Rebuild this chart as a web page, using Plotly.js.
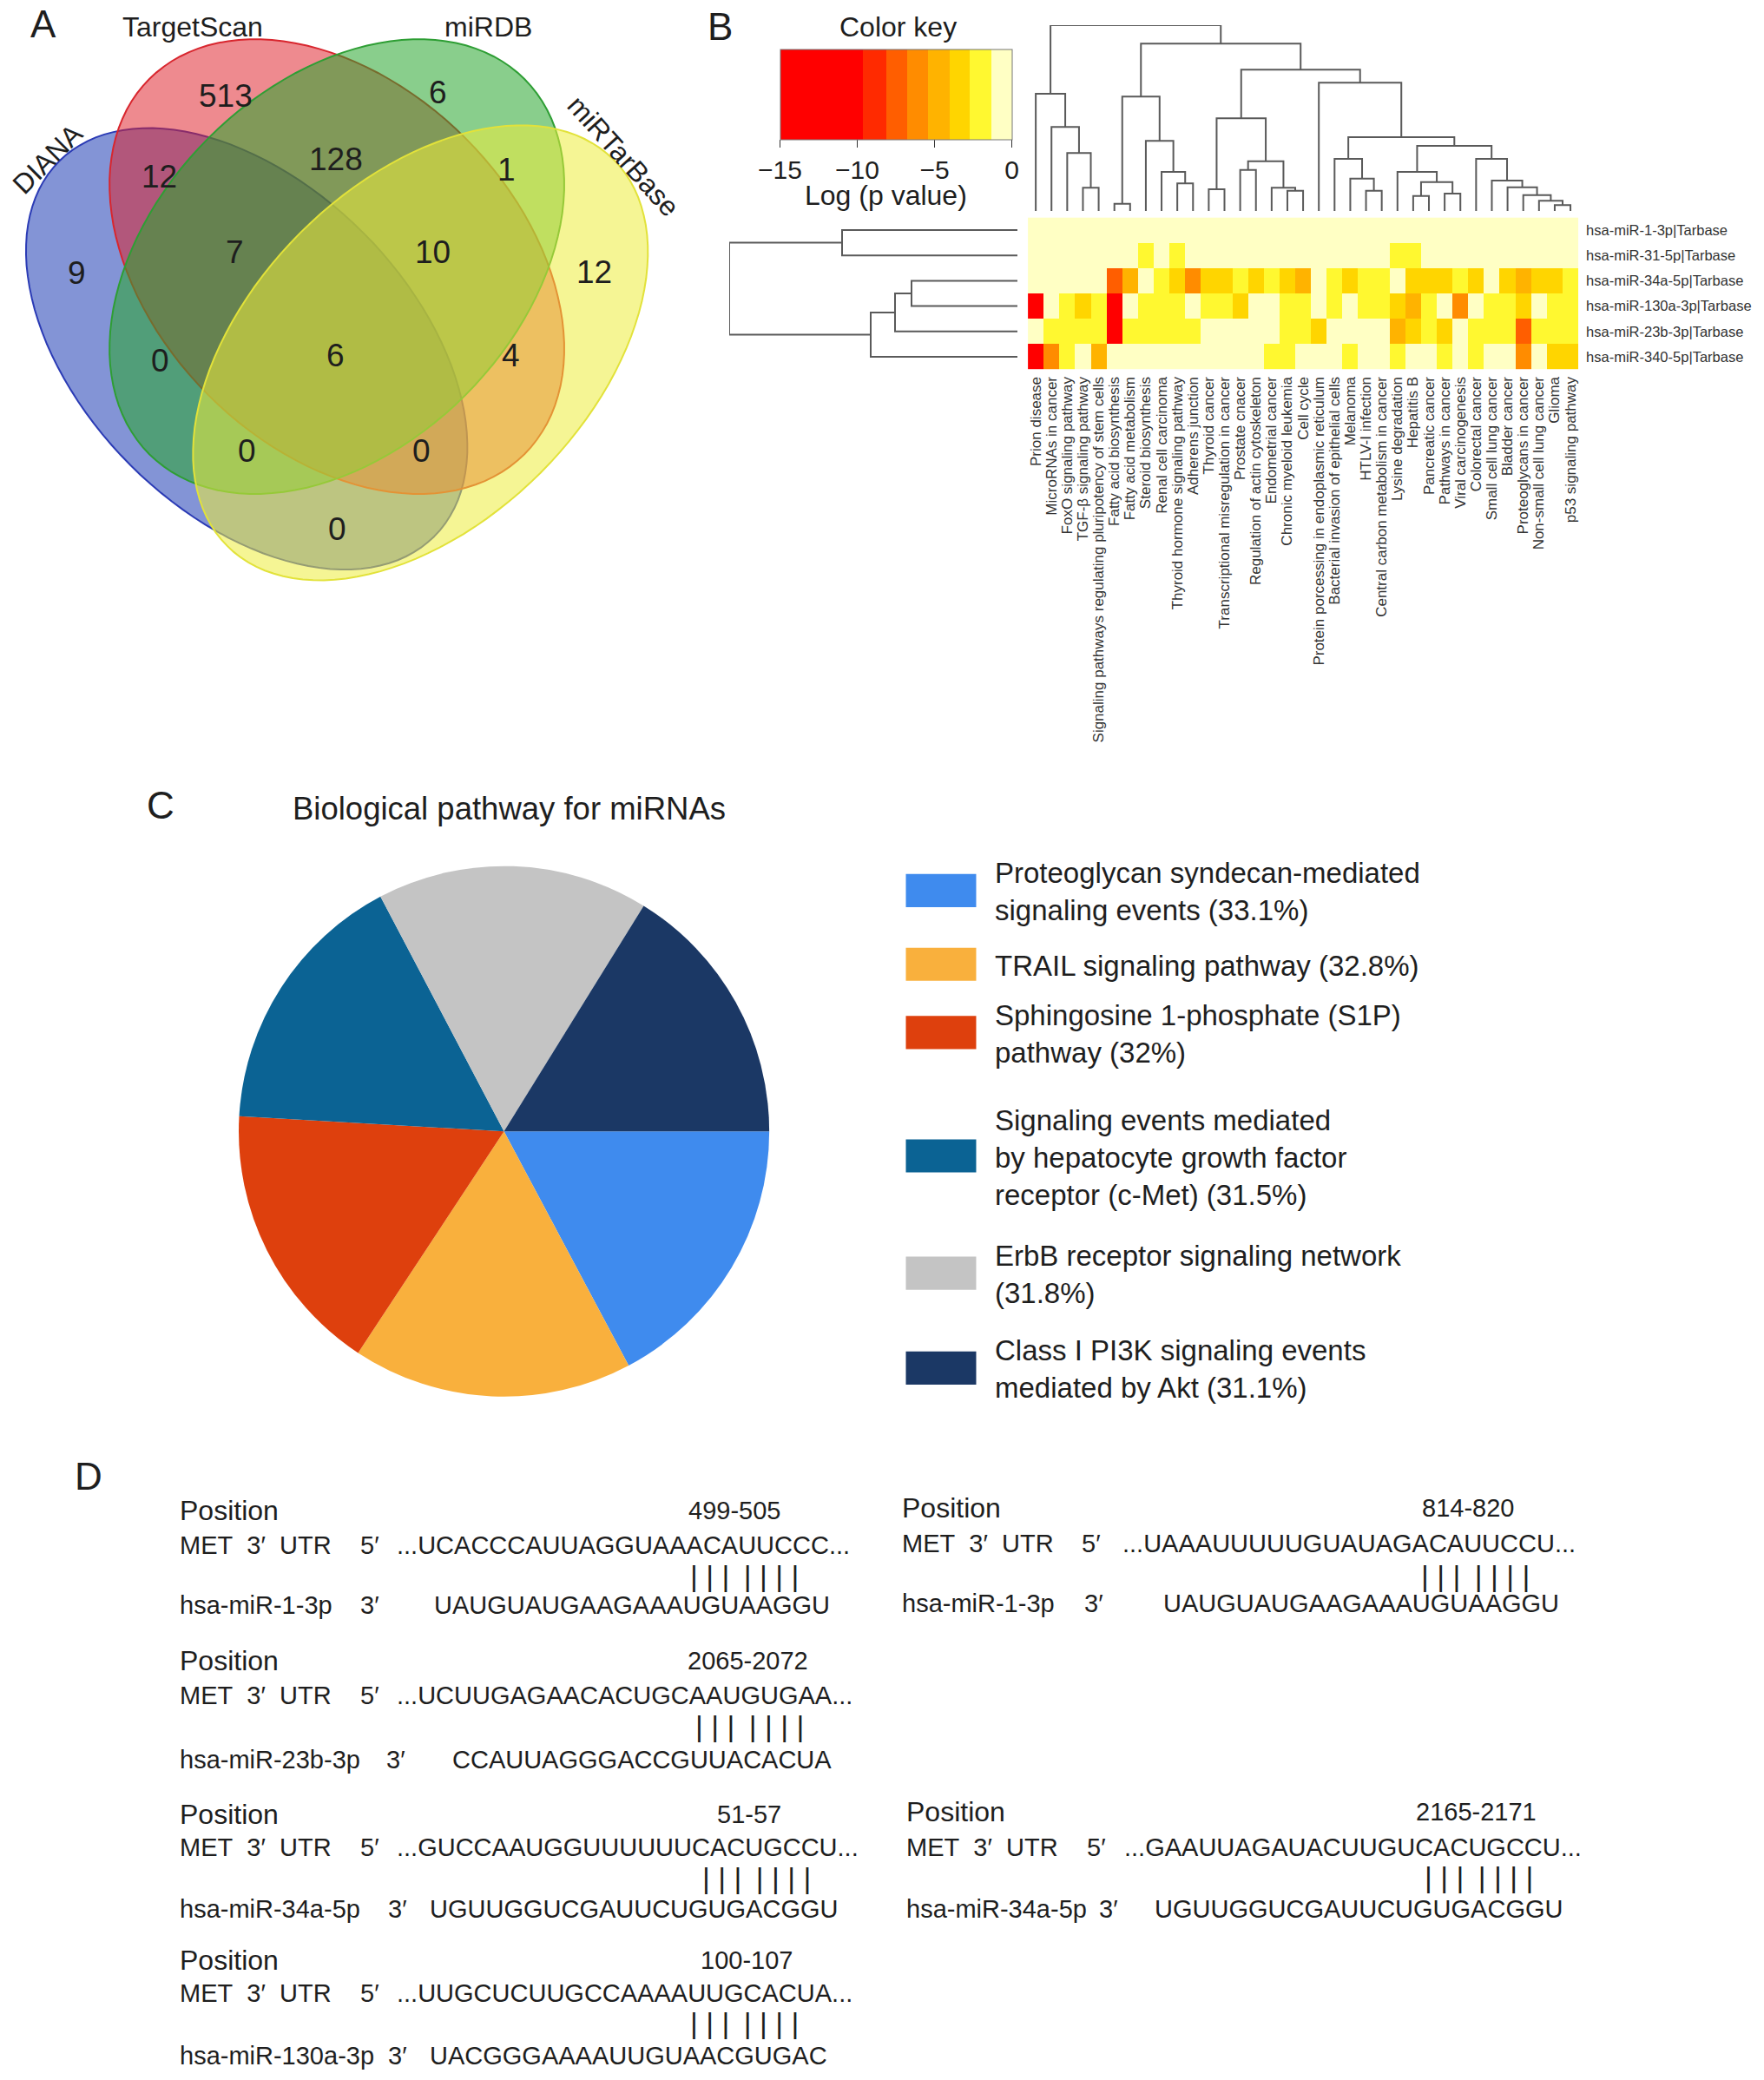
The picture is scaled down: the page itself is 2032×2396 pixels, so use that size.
<!DOCTYPE html>
<html><head><meta charset="utf-8">
<script src="https://cdn.plot.ly/plotly-3.0.1.min.js"></script>
<style>html,body{margin:0;padding:0;background:#fff}</style>
</head><body><div id="chart" style="width:2032px;height:2396px"></div>
<script>
// ================= DATA =================
// Panel A - Venn
const vennSetNames = ['DIANA', 'TargetScan', 'miRDB', 'miRTarBase'];
const vennRegionCounts = [9, 513, 6, 12, 12, 128, 1, 7, 10, 0, 6, 4, 0, 0, 0];
const vennRegionSets = ['D', 'T', 'M', 'B', 'DT', 'TM', 'MB', 'DTM', 'TMB', 'DM', 'DTMB', 'TB', 'DMB', 'DTB', 'DB'];

// Panel B - heatmap of log(p value)
const pathways = ['Prion disease', 'MicroRNAs in cancer', 'FoxO signaling pathway', 'TGF-β signaling pathway',
  'Signaling pathways regulating pluripotency of stem cells', 'Fatty acid biosynthesis', 'Fatty acid metabolism',
  'Steroid biosynthesis', 'Renal cell carcinoma', 'Thyroid hormone signaling pathway', 'Adherens junction',
  'Thyroid cancer', 'Transcriptional misregulation in cancer', 'Prostate cnacer', 'Regulation of actin cytoskeleton',
  'Endometrial cancer', 'Chronic myeloid leukemia', 'Cell cycle', 'Protein porcessing in endoplasmic reticulum',
  'Bacterial invasion of epithelial cells', 'Melanoma', 'HTLV-I infection', 'Central carbon metabolism in cancer',
  'Lysine degradation', 'Hepatitis B', 'Pancreatic cancer', 'Pathways in cancer', 'Viral carcinogenesis',
  'Colorectal cancer', 'Small cell lung cancer', 'Bladder cancer', 'Proteoglycans in cancer',
  'Non-small cell lung cancer', 'Glioma', 'p53 signaling pathway'];
const mirnas = ['hsa-miR-1-3p|Tarbase', 'hsa-miR-31-5p|Tarbase', 'hsa-miR-34a-5p|Tarbase',
  'hsa-miR-130a-3p|Tarbase', 'hsa-miR-23b-3p|Tarbase', 'hsa-miR-340-5p|Tarbase'];
const logP_miR1_3p = [-0.6,-0.6,-0.6,-0.6,-0.6,-0.6,-0.6,-0.6,-0.6,-0.6,-0.6,-0.6,-0.6,-0.6,-0.6,-0.6,-0.6,-0.6,-0.6,-0.6,-0.6,-0.6,-0.6,-0.6,-0.6,-0.6,-0.6,-0.6,-0.6,-0.6,-0.6,-0.6,-0.6,-0.6,-0.6];
const logP_miR31_5p = [-0.6,-0.6,-0.6,-0.6,-0.6,-0.6,-0.6,-2.3,-0.6,-2.3,-0.6,-0.6,-0.6,-0.6,-0.6,-0.6,-0.6,-0.6,-0.6,-0.6,-0.6,-0.6,-0.6,-2.0,-2.0,-0.6,-0.6,-0.6,-0.6,-0.6,-0.6,-0.6,-0.6,-0.6,-0.6];
const logP_miR34a_5p = [-0.6,-0.6,-0.6,-0.6,-0.6,-7.5,-4.7,-0.6,-2.3,-3.4,-5.5,-3.4,-3.4,-2.3,-3.4,-2.3,-3.4,-4.6,-0.6,-2.3,-3.4,-1.9,-2.3,-0.6,-3.4,-3.4,-3.4,-2.4,-3.4,-0.6,-3.4,-4.6,-3.4,-3.4,-2.3];
const logP_miR130a_3p = [-12,-0.6,-1.9,-3.4,-1.9,-12,-0.6,-1.9,-2.4,-2.4,-0.6,-1.9,-1.9,-3.4,-0.6,-0.6,-2.3,-1.9,-0.6,-1.9,-0.6,-2.0,-2.0,-3.4,-4.6,-1.9,-0.6,-6.0,-0.6,-1.9,-1.9,-3.4,-0.6,-2.3,-1.9];
const logP_miR23b_3p = [-0.6,-1.9,-1.9,-2.4,-1.9,-12,-1.9,-1.9,-1.9,-1.9,-2.3,-0.6,-0.6,-0.6,-0.6,-0.6,-2.3,-1.9,-3.4,-0.6,-0.6,-0.6,-0.6,-4.6,-3.4,-1.6,-3.4,-0.6,-1.8,-1.8,-1.8,-7.5,-2.3,-1.8,-2.3];
const logP_miR340_5p = [-12,-6.6,-1.9,-0.6,-4.6,-0.6,-0.6,-0.6,-0.6,-0.6,-0.6,-0.6,-0.6,-0.6,-0.6,-1.9,-1.9,-0.6,-0.6,-0.6,-1.9,-0.6,-0.6,-1.8,-0.6,-0.6,-1.8,-0.6,-1.8,-0.6,-0.6,-6.0,-0.6,-3.4,-3.4];
const keyBreaks = [-15, -9.66, -8.14, -6.77, -5.43, -4.06, -2.73, -1.35, 0];
const keyColors = ['#FF0000', '#FF2A00', '#FF5E00', '#FF8C00', '#FFB300', '#FFD500', '#FFF830', '#FFFFC4'];
const keyTicks = [-15, -10, -5, 0];
// dendrograms: [left, right, height]; negative = leaf (1-based, display order), positive = earlier merge
const colMerges = [[-4,-5,80],[-3,1,200],[-2,2,290],[-1,3,405],[-6,-7,25],[-10,-11,95],[-9,6,135],[-8,7,242],
  [5,8,395],[-12,-13,75],[-14,-15,142],[-17,-18,70],[-16,12,80],[11,13,172],[10,14,320],[-22,-23,70],[-21,16,112],
  [-20,17,180],[-25,-26,52],[-27,-28,60],[19,20,100],[-24,21,135],[-34,-35,20],[-33,23,35],[-32,24,55],[-31,25,82],
  [-30,26,105],[-29,27,180],[22,28,225],[18,29,255],[-19,30,443],[15,31,488],[9,32,578],[4,33,642]];
const rowMerges = [[-1,-2,202],[-3,-4,122],[2,-5,141],[3,-6,169],[1,4,332]];

// Panel C - pie
const pieNames = ['Proteoglycan syndecan-mediated signaling events', 'TRAIL signaling pathway',
  'Sphingosine 1-phosphate (S1P) pathway', 'Signaling events mediated by hepatocyte growth factor receptor (c-Met)',
  'ErbB receptor signaling network', 'Class I PI3K signaling events mediated by Akt'];
const pieValues = [33.1, 32.8, 32, 31.5, 31.8, 31.1];
const pieLegendText = ['Proteoglycan syndecan-mediated<br>signaling events (33.1%)', 'TRAIL signaling pathway (32.8%)',
  'Sphingosine 1-phosphate (S1P)<br>pathway (32%)', 'Signaling events mediated<br>by hepatocyte growth factor<br>receptor (c-Met) (31.5%)',
  'ErbB receptor signaling network<br>(31.8%)', 'Class I PI3K signaling events<br>mediated by Akt (31.1%)'];
const pieColors = ['#3F8BEE', '#F9B03D', '#DE400D', '#0B6394', '#C4C4C4', '#1B3865'];

// Panel D - target sites
const sitePositions = ['499-505', '2065-2072', '51-57', '100-107', '814-820', '2165-2171'];
const utrSeqs = ['...UCACCCAUUAGGUAAACAUUCCC...', '...UCUUGAGAACACUGCAAUGUGAA...', '...GUCCAAUGGUUUUUUCACUGCCU...',
  '...UUGCUCUUGCCAAAAUUGCACUA...', '...UAAAUUUUUGUAUAGACAUUCCU...', '...GAAUUAGAUACUUGUCACUGCCU...'];
const mirNames = ['hsa-miR-1-3p', 'hsa-miR-23b-3p', 'hsa-miR-34a-5p', 'hsa-miR-130a-3p', 'hsa-miR-1-3p', 'hsa-miR-34a-5p'];
const mirSeqs = ['UAUGUAUGAAGAAAUGUAAGGU', 'CCAUUAGGGACCGUUACACUA', 'UGUUGGUCGAUUCUGUGACGGU', 'UACGGGAAAAUUGUAACGUGAC',
  'UAUGUAUGAAGAAAUGUAAGGU', 'UGUUGGUCGAUUCUGUGACGGU'];

// ================= LAYOUT HELPERS =================
const W = 2032, H = 2396, S = 2032 / 1330;
const s = v => v * S;                 // reference-scale -> px
const FONT = 'Liberation Sans, Arial, Helvetica, sans-serif';
const INK = '#1e1e1e';
const annotations = [], shapes = [], traces = [];
function txt(x, y, text, size, opts) {
  annotations.push(Object.assign({xref: 'x', yref: 'y', x: s(x), y: s(y), text: text, showarrow: false,
    xanchor: 'left', yanchor: 'middle', align: 'left', font: {family: FONT, size: size, color: INK}}, opts || {}));
}
// pixel axis
traces.push({type: 'scatter', x: [0], y: [0], mode: 'markers', marker: {opacity: 0}, hoverinfo: 'skip', showlegend: false, xaxis: 'x', yaxis: 'y'});

// ---------- Panel letters ----------
txt(33, 18, 'A', 44, {xanchor: 'center'});
txt(543, 20, 'B', 44, {xanchor: 'center'});
txt(121, 607, 'C', 44, {xanchor: 'center'});
txt(67, 1113, 'D', 44, {xanchor: 'center'});

// ---------- Panel A: Venn ----------
const vennEllipses = [ // [cx, cy, a, b, angle] reference-scale
  [186, 263, 200, 124, 45], [254, 201, 200, 137, 45], [254, 201, 200, 137, -45], [317, 266, 206, 128, -45]];
const vennFill = ['rgba(30,60,180,0.55)', 'rgba(222,30,40,0.52)', 'rgba(40,165,45,0.55)', 'rgba(236,236,60,0.55)'];
const vennLine = ['#2B3BB5', '#D8262E', '#2E9E34', '#E2E23A'];
vennEllipses.forEach((e, i) => {
  const [cx, cy, a, b, ang] = e, th = ang * Math.PI / 180;
  let d = '';
  for (let k = 0; k <= 120; k++) {
    const t = 2 * Math.PI * k / 120;
    const x = cx + a * Math.cos(t) * Math.cos(th) - b * Math.sin(t) * Math.sin(th);
    const y = cy + a * Math.cos(t) * Math.sin(th) + b * Math.sin(t) * Math.cos(th);
    d += (k ? 'L' : 'M') + s(x).toFixed(1) + ',' + s(y).toFixed(1);
  }
  shapes.push({type: 'path', xref: 'x', yref: 'y', path: d + 'Z', fillcolor: vennFill[i], line: {color: vennLine[i], width: 2}, layer: 'above'});
});
const vennRegionXY = [[58,206],[170,72],[330,70],[448,205],[120,133],[253,120],[382,128],[177,190],[326,190],
  [121,272],[253,268],[385,268],[186,340],[318,340],[254,399]];
vennRegionCounts.forEach((c, i) => txt(vennRegionXY[i][0], vennRegionXY[i][1], String(c), 37, {xanchor: 'center'}));
const vennLabelXY = [[36, 120, -45], [145, 20, 0], [368, 20, 0], [470, 118, 48]];
vennSetNames.forEach((n, i) => txt(vennLabelXY[i][0], vennLabelXY[i][1], n, 32, {xanchor: 'center', textangle: vennLabelXY[i][2]}));

// ---------- Panel B: heatmap ----------
const hmX = [s(775) / W, s(1190) / W];
const hmY = [1 - 425.6 / H, 1 - 250.4 / H];
const cs = [];
keyColors.forEach((c, i) => {
  cs.push([(keyBreaks[i] + 15) / 15, c]);
  cs.push([(keyBreaks[i + 1] + 15) / 15, c]);
});
traces.push({type: 'heatmap', x: pathways, y: mirnas,
  z: [logP_miR1_3p, logP_miR31_5p, logP_miR34a_5p, logP_miR130a_3p, logP_miR23b_3p, logP_miR340_5p],
  zmin: -15, zmax: 0, colorscale: cs, xaxis: 'x2', yaxis: 'y2', hoverinfo: 'x+y+z',
  colorbar: {orientation: 'h', x: s((588 + 763) / 2) / W, xanchor: 'center', y: 1 - s(37) / H, yanchor: 'top',
    len: s(175), lenmode: 'pixels', thickness: s(68), thicknessmode: 'pixels', xpad: 0, ypad: 0,
    outlinewidth: 1, outlinecolor: '#777', tickvals: keyTicks, ticks: 'outside', ticklen: 9, tickcolor: '#333',
    tickfont: {family: FONT, size: 30, color: INK}}});
txt(677, 20, 'Color key', 32, {xanchor: 'center'});
txt(668, 147, 'Log (p value)', 32, {xanchor: 'center'});

function dendro(merges) {
  const pos = [], hgt = [], p = [], h = [];
  const node = id => id < 0 ? [-id - 1, 0] : [pos[id - 1], hgt[id - 1]];
  merges.forEach((m, i) => {
    const [p1, h1] = node(m[0]), [p2, h2] = node(m[1]);
    pos[i] = (p1 + p2) / 2; hgt[i] = m[2];
    p.push(p1, p1, p2, p2, null); h.push(h1, m[2], m[2], h2, null);
  });
  return {p, h};
}
const cd = dendro(colMerges);
traces.push({type: 'scatter', mode: 'lines', x: cd.p, y: cd.h, xaxis: 'x3', yaxis: 'y3', line: {color: '#5a5a5a', width: 2}, hoverinfo: 'skip', showlegend: false});
const rd = dendro(rowMerges);
traces.push({type: 'scatter', mode: 'lines', x: rd.h, y: rd.p, xaxis: 'x4', yaxis: 'y4', line: {color: '#5a5a5a', width: 2}, hoverinfo: 'skip', showlegend: false});

// ---------- Panel C: pie ----------
traces.push({type: 'pie', labels: pieNames, values: pieValues, sort: false, direction: 'clockwise', rotation: 90,
  marker: {colors: pieColors, line: {width: 0}}, textinfo: 'none', hoverinfo: 'label+value', showlegend: false,
  domain: {x: [s(180) / W, s(580) / W], y: [1 - s(1053) / H, 1 - s(653) / H]}});
txt(384, 610, 'Biological pathway for miRNAs', 36.5, {xanchor: 'center'});
const legendY = [671.5, 727, 778.5, 871.5, 960, 1031.5];
pieLegendText.forEach((t, i) => {
  shapes.push({type: 'rect', xref: 'x', yref: 'y', x0: s(683), x1: s(736), y0: s(legendY[i] - 12.5), y1: s(legendY[i] + 12.5),
    fillcolor: pieColors[i], line: {width: 0}});
  txt(749, legendY[i] + 1, t, 33, {yanchor: 'middle'});
});

// ---------- Panel D ----------
const dLayout = [ // label x, 5' x, utr x, 3' x, mir x, position centre x, bars x, [y pos, y utr, y bars, y mir]
  [134, 270, 298, 270, 326, 554, 519, [1139, 1165, 1188, 1210]],
  [134, 270, 298, 290, 340, 564, 523, [1252, 1278, 1301, 1327]],
  [134, 270, 298, 291, 323, 565, 528, [1368, 1393, 1416, 1439]],
  [134, 270, 298, 291, 323, 563, 519, [1478, 1503, 1525, 1550]],
  [679, 814, 845, 816, 876, 1107, 1070, [1137, 1164, 1188, 1209]],
  [682, 818, 846, 827, 869, 1113, 1073, [1366, 1393, 1415, 1439]]];
const bars = '| | |\u00A0\u2009| | | |';
dLayout.forEach((L, i) => {
  const y = L[7];
  txt(L[0], y[0], 'Position', 32);
  txt(L[5], y[0], sitePositions[i], 29, {xanchor: 'center'});
  txt(L[0], y[1], 'MET\u00A0\u00A03\u2032\u00A0\u00A0UTR', 29);
  txt(L[1], y[1], '5\u2032', 29);
  txt(L[2], y[1], utrSeqs[i], 29);
  txt(L[6], y[2], bars, 34);
  txt(L[0], y[3], mirNames[i], 29);
  txt(L[3], y[3], '3\u2032', 29);
  txt(L[4], y[3], mirSeqs[i], 29);
});

const hidden = {visible: false, showgrid: false, zeroline: false, fixedrange: true};
const layout = {
  width: W, height: H, margin: {l: 0, r: 0, t: 0, b: 0}, paper_bgcolor: '#fff', plot_bgcolor: 'rgba(0,0,0,0)',
  showlegend: false, font: {family: FONT, color: INK},
  xaxis: Object.assign({domain: [0, 1], range: [0, W], anchor: 'y'}, hidden),
  yaxis: Object.assign({domain: [0, 1], range: [H, 0], anchor: 'x'}, hidden),
  xaxis2: {domain: hmX, anchor: 'y2', type: 'category', tickmode: 'array', tickvals: pathways, ticktext: pathways,
    tickangle: -90, ticks: '', showgrid: false, zeroline: false, ticklabelstandoff: 4,
    showline: false, tickfont: {family: FONT, size: 17, color: '#333'}, automargin: false, fixedrange: true},
  yaxis2: {domain: hmY, anchor: 'x2', type: 'category', side: 'right', autorange: 'reversed', ticks: '', showgrid: false,
    zeroline: false, showline: false, ticklabelstandoff: 8, tickfont: {family: FONT, size: 16.5, color: '#333'}, automargin: false, fixedrange: true},
  xaxis3: Object.assign({domain: hmX, anchor: 'y3', range: [-0.5, pathways.length - 0.5]}, hidden),
  yaxis3: Object.assign({domain: [1 - 243 / H, 1 - 29 / H], anchor: 'x3', range: [0, 642]}, hidden),
  xaxis4: Object.assign({domain: [840 / W, 1172 / W], anchor: 'y4', range: [332, 0]}, hidden),
  yaxis4: Object.assign({domain: hmY, anchor: 'x4', range: [mirnas.length - 0.5, -0.5]}, hidden),
  shapes: shapes, annotations: annotations
};
Plotly.newPlot('chart', traces, layout, {displayModeBar: false, staticPlot: true});
</script></body></html>
